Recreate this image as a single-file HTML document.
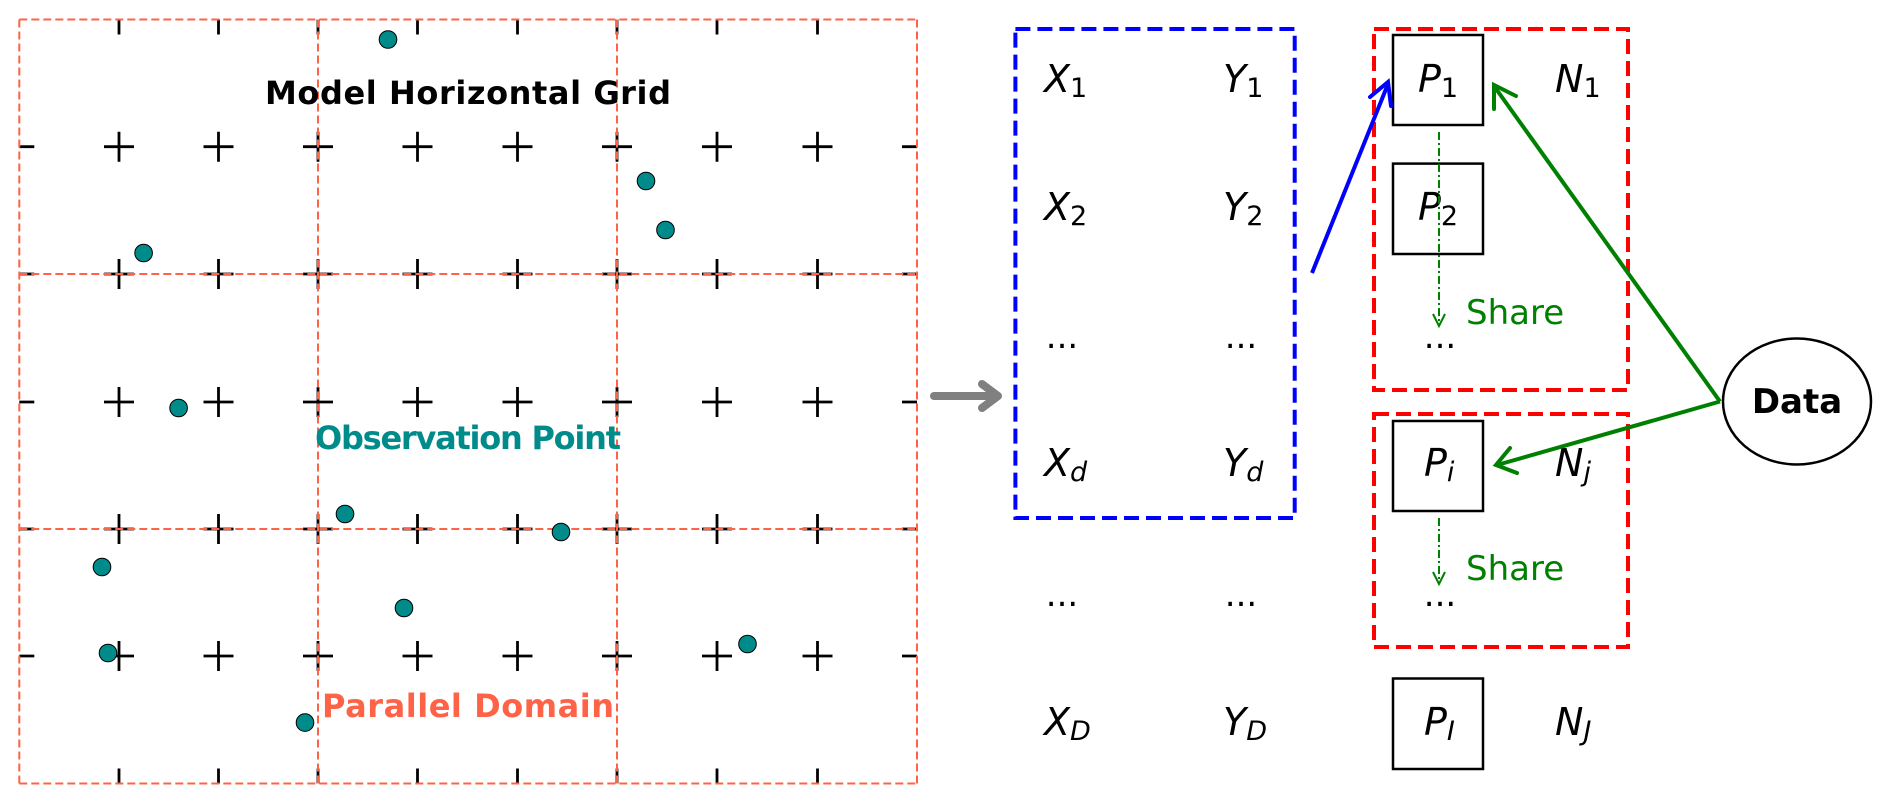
<!DOCTYPE html>
<html><head><meta charset="utf-8"><style>
html,body{margin:0;padding:0;background:#fff;}
svg{display:block;}
text{font-family:"DejaVu Sans","Liberation Sans",sans-serif;}
.m{font-style:italic;font-size:38px;fill:#000;}
.s{font-size:27px;}
.n{font-size:27px;font-style:normal;}
</style></head><body>
<svg width="1892" height="804" viewBox="0 0 1892 804" xmlns="http://www.w3.org/2000/svg">
<defs>
<g id="pl"><path d="M-15 0H15M0 -15V15" stroke="#000" stroke-width="2.8"/></g>
</defs>
<g>
<use href="#pl" x="119" y="146.7"/><use href="#pl" x="218.5" y="146.7"/><use href="#pl" x="318" y="146.7"/><use href="#pl" x="417.5" y="146.7"/><use href="#pl" x="517.5" y="146.7"/><use href="#pl" x="617" y="146.7"/><use href="#pl" x="717" y="146.7"/><use href="#pl" x="817.5" y="146.7"/>
<use href="#pl" x="119" y="274"/><use href="#pl" x="218.5" y="274"/><use href="#pl" x="318" y="274"/><use href="#pl" x="417.5" y="274"/><use href="#pl" x="517.5" y="274"/><use href="#pl" x="617" y="274"/><use href="#pl" x="717" y="274"/><use href="#pl" x="817.5" y="274"/>
<use href="#pl" x="119" y="402"/><use href="#pl" x="218.5" y="402"/><use href="#pl" x="318" y="402"/><use href="#pl" x="417.5" y="402"/><use href="#pl" x="517.5" y="402"/><use href="#pl" x="617" y="402"/><use href="#pl" x="717" y="402"/><use href="#pl" x="817.5" y="402"/>
<use href="#pl" x="119" y="529"/><use href="#pl" x="218.5" y="529"/><use href="#pl" x="318" y="529"/><use href="#pl" x="417.5" y="529"/><use href="#pl" x="517.5" y="529"/><use href="#pl" x="617" y="529"/><use href="#pl" x="717" y="529"/><use href="#pl" x="817.5" y="529"/>
<use href="#pl" x="119" y="656"/><use href="#pl" x="218.5" y="656"/><use href="#pl" x="318" y="656"/><use href="#pl" x="417.5" y="656"/><use href="#pl" x="517.5" y="656"/><use href="#pl" x="617" y="656"/><use href="#pl" x="717" y="656"/><use href="#pl" x="817.5" y="656"/>
</g>
<g stroke="#000" stroke-width="2.8">
<path d="M119 19.5v15M218.5 19.5v15M318 19.5v15M417.5 19.5v15M517.5 19.5v15M617 19.5v15M717 19.5v15M817.5 19.5v15"/>
<path d="M119 783.5v-15M218.5 783.5v-15M318 783.5v-15M417.5 783.5v-15M517.5 783.5v-15M617 783.5v-15M717 783.5v-15M817.5 783.5v-15"/>
<path d="M19.3 146.7h15M19.3 274h15M19.3 402h15M19.3 529h15M19.3 656h15"/>
<path d="M917 146.7h-15M917 274h-15M917 402h-15M917 529h-15M917 656h-15"/>
</g>
<g stroke="#FF6347" stroke-width="2" stroke-dasharray="8,4" fill="none">
<path d="M19.3 19.5V783.5M318 19.5V783.5M617 19.5V783.5M917 19.5V783.5"/>
<path d="M19.3 19.5H917M19.3 274H917M19.3 529H917M19.3 783.5H917"/>
</g>
<g fill="#008B8B" stroke="#000" stroke-width="1">
<circle cx="388" cy="39.5" r="8.8"/><circle cx="646" cy="181" r="8.8"/><circle cx="665.5" cy="230" r="8.8"/>
<circle cx="143.6" cy="253" r="8.8"/><circle cx="178.6" cy="408" r="8.8"/><circle cx="345" cy="514" r="8.8"/>
<circle cx="561" cy="532" r="8.8"/><circle cx="102" cy="567" r="8.8"/><circle cx="404" cy="608" r="8.8"/>
<circle cx="108" cy="653" r="8.8"/><circle cx="747.5" cy="644" r="8.8"/><circle cx="305" cy="722.6" r="8.8"/>
</g>
<text x="468" y="104" font-size="32" font-weight="bold" text-anchor="middle" textLength="406">Model Horizontal Grid</text>
<text x="468" y="449" font-size="32" font-weight="bold" text-anchor="middle" fill="#008B8B" textLength="306">Observation Point</text>
<text x="468" y="717" font-size="32" font-weight="bold" text-anchor="middle" fill="#FF6347" textLength="292">Parallel Domain</text>
<path d="M934 396H996" stroke="#808080" stroke-width="8" stroke-linecap="round"/>
<path d="M982 384L998 396L982 408" stroke="#808080" stroke-width="8" fill="none" stroke-linecap="round" stroke-linejoin="round"/>
<rect x="1015.4" y="29" width="279.3" height="489" fill="none" stroke="#0000FF" stroke-width="4" stroke-dasharray="15,7"/>
<rect x="1374" y="29" width="254" height="361" fill="none" stroke="#FF0000" stroke-width="4" stroke-dasharray="15,7"/>
<rect x="1374" y="414" width="254" height="233" fill="none" stroke="#FF0000" stroke-width="4" stroke-dasharray="15,7"/>
<g fill="none" stroke="#000" stroke-width="2.5">
<rect x="1393" y="35" width="90" height="90"/>
<rect x="1393" y="163.6" width="90" height="90.4"/>
<rect x="1393" y="421" width="90" height="90"/>
<rect x="1393" y="678.5" width="90" height="90.5"/>
</g>
<g class="m">
<text x="1044" y="92">X<tspan class="n" dy="5">1</tspan></text>
<text x="1223" y="92">Y<tspan class="n" dy="5">1</tspan></text>
<text x="1044" y="220">X<tspan class="n" dy="5">2</tspan></text>
<text x="1223" y="220">Y<tspan class="n" dy="5">2</tspan></text>
<text x="1044" y="476">X<tspan class="s" dy="5">d</tspan></text>
<text x="1223" y="476">Y<tspan class="s" dy="5">d</tspan></text>
<text x="1044" y="735">X<tspan class="s" dy="5">D</tspan></text>
<text x="1223" y="735">Y<tspan class="s" dy="5">D</tspan></text>
<text x="1418" y="92">P<tspan class="n" dy="5">1</tspan></text>
<text x="1418" y="220">P<tspan class="n" dy="5">2</tspan></text>
<text x="1424" y="476">P<tspan class="s" dy="5">i</tspan></text>
<text x="1424" y="735">P<tspan class="s" dy="5">I</tspan></text>
<text x="1555" y="92">N<tspan class="n" dy="5">1</tspan></text>
<text x="1555" y="476">N<tspan class="s" dy="5">j</tspan></text>
<text x="1555" y="735">N<tspan class="s" dy="5">J</tspan></text>
</g>
<g font-size="34" fill="#000">
<text x="1062" y="348" text-anchor="middle">...</text>
<text x="1241" y="348" text-anchor="middle">...</text>
<text x="1440" y="348" text-anchor="middle">...</text>
<text x="1062" y="606" text-anchor="middle">...</text>
<text x="1241" y="606" text-anchor="middle">...</text>
<text x="1440" y="606" text-anchor="middle">...</text>
</g>
<g stroke="#008000" stroke-width="2" fill="none">
<path d="M1439 132V325" stroke-dasharray="8,3,2,3"/>
<path d="M1433 314L1439 326L1445 314"/>
<path d="M1439 518V583" stroke-dasharray="8,3,2,3"/>
<path d="M1433 572L1439 584L1445 572"/>
</g>
<text x="1466" y="324" font-size="34" fill="#008000">Share</text>
<text x="1466" y="580" font-size="34" fill="#008000">Share</text>
<path d="M1312 273L1388 84" stroke="#0000FF" stroke-width="4" fill="none"/>
<path d="M1370 97L1388 82L1391 106" stroke="#0000FF" stroke-width="4" fill="none" stroke-linecap="round"/>
<path d="M1720 401.5L1494 86M1720 401.5L1497 465" stroke="#008000" stroke-width="4" fill="none"/>
<path d="M1494 109L1494 85L1516 96" stroke="#008000" stroke-width="4" fill="none" stroke-linecap="round"/>
<path d="M1510 448L1496 465L1517 473" stroke="#008000" stroke-width="4" fill="none" stroke-linecap="round"/>
<ellipse cx="1797" cy="401.5" rx="74" ry="63" fill="#fff" stroke="#000" stroke-width="2.5"/>
<text x="1797" y="413" font-size="34" font-weight="bold" text-anchor="middle">Data</text>
</svg>
</body></html>
